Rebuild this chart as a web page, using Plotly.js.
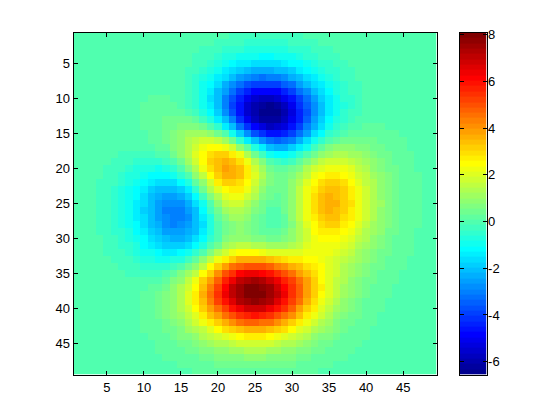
<!DOCTYPE html>
<html>
<head>
<meta charset="utf-8">
<script src="https://cdn.plot.ly/plotly-3.0.1.min.js"></script>
<style>html,body{margin:0;padding:0;background:#fff}#g{width:560px;height:420px}</style>
</head>
<body>
<div id="g"></div>
<script>
// Values: one list per image row, top to bottom, 49 cells each
const zRows = [
[0,0,0,0,0,0,0,0,0,0,0,0,0,0,0,0,-.03,-.05,-.07,-.1,-.14,-.17,-.2,-.23,-.25,-.25,-.25,-.24,-.22,-.2,-.17,-.14,-.11,-.09,-.06,-.05,-.03,-.02,-.01,-.01,0,0,0,0,0,0,0,0,0],
[0,0,0,0,0,0,0,0,0,0,0,0,0,0,-.01,-.03,-.06,-.09,-.14,-.19,-.24,-.3,-.35,-.39,-.42,-.44,-.43,-.41,-.38,-.34,-.29,-.24,-.19,-.14,-.11,-.08,-.05,-.04,-.02,-.02,-.01,0,0,0,0,0,0,0,0],
[0,0,0,0,0,0,0,0,0,.01,.01,.01,.01,0,-.02,-.05,-.1,-.15,-.22,-.3,-.39,-.48,-.56,-.63,-.68,-.7,-.7,-.66,-.61,-.54,-.46,-.38,-.3,-.23,-.17,-.12,-.09,-.06,-.04,-.02,-.02,-.01,0,0,0,0,0,0,0],
[0,0,0,0,0,0,0,.01,.01,.01,.01,.01,0,-.01,-.04,-.09,-.15,-.24,-.35,-.47,-.61,-.74,-.87,-.97,-1.05,-1.08,-1.07,-1.02,-.94,-.83,-.71,-.58,-.46,-.35,-.26,-.19,-.13,-.09,-.06,-.04,-.02,-.01,0,0,0,0,0,0,0],
[0,0,0,0,0,0,.01,.01,.01,.02,.02,.02,0,-.02,-.07,-.13,-.23,-.36,-.52,-.71,-.91,-1.11,-1.3,-1.46,-1.56,-1.61,-1.6,-1.53,-1.4,-1.24,-1.06,-.87,-.69,-.52,-.39,-.28,-.19,-.13,-.08,-.05,-.03,-.02,-.01,0,0,0,0,0,0],
[0,0,0,0,0,.01,.01,.02,.02,.02,.03,.02,0,-.03,-.09,-.19,-.33,-.52,-.74,-1.01,-1.3,-1.58,-1.85,-2.07,-2.23,-2.3,-2.28,-2.18,-2,-1.77,-1.51,-1.24,-.98,-.74,-.54,-.38,-.26,-.17,-.11,-.07,-.04,-.03,-.01,0,0,0,0,0,0],
[0,0,0,0,.01,.01,.01,.02,.03,.03,.04,.03,.01,-.04,-.12,-.25,-.44,-.69,-1,-1.35,-1.74,-2.14,-2.51,-2.81,-3.02,-3.12,-3.1,-2.96,-2.72,-2.41,-2.05,-1.68,-1.32,-1,-.73,-.52,-.35,-.22,-.14,-.08,-.05,-.02,-.01,0,0,0,0,0,0],
[0,0,0,0,.01,.01,.02,.03,.04,.05,.05,.04,.02,-.04,-.14,-.3,-.53,-.85,-1.25,-1.71,-2.21,-2.73,-3.21,-3.61,-3.9,-4.03,-4.01,-3.83,-3.53,-3.12,-2.65,-2.17,-1.71,-1.3,-.94,-.66,-.44,-.28,-.17,-.1,-.06,-.03,-.01,0,0,0,0,0,0],
[0,0,0,0,.01,.02,.02,.03,.05,.06,.07,.07,.05,-.01,-.13,-.32,-.59,-.97,-1.45,-2.01,-2.64,-3.28,-3.88,-4.39,-4.76,-4.94,-4.93,-4.72,-4.35,-3.85,-3.27,-2.68,-2.1,-1.59,-1.15,-.8,-.53,-.34,-.2,-.12,-.06,-.03,-.01,-.01,0,0,0,0,0],
[0,0,0,0,.01,.02,.03,.04,.06,.08,.1,.1,.09,.04,-.08,-.27,-.58,-1,-1.54,-2.2,-2.93,-3.69,-4.41,-5.03,-5.49,-5.73,-5.74,-5.51,-5.08,-4.5,-3.82,-3.12,-2.44,-1.83,-1.32,-.9,-.59,-.37,-.22,-.12,-.06,-.03,-.01,0,0,0,0,0,0],
[0,0,0,0,.01,.02,.03,.05,.07,.1,.13,.15,.15,.12,.02,-.16,-.46,-.9,-1.48,-2.19,-3.01,-3.86,-4.7,-5.43,-5.98,-6.29,-6.33,-6.1,-5.64,-5,-4.24,-3.45,-2.69,-2,-1.42,-.96,-.61,-.37,-.2,-.1,-.05,-.01,0,.01,.01,.01,0,0,0],
[0,0,0,0,.01,.02,.03,.05,.08,.12,.16,.2,.24,.24,.18,.04,-.22,-.63,-1.2,-1.92,-2.77,-3.69,-4.6,-5.42,-6.06,-6.45,-6.55,-6.35,-5.89,-5.22,-4.42,-3.58,-2.76,-2.03,-1.41,-.93,-.57,-.32,-.16,-.06,-.01,.01,.02,.02,.01,.01,.01,0,0],
[0,0,0,0,.01,.01,.03,.05,.08,.13,.19,.26,.33,.38,.39,.33,.15,-.18,-.68,-1.36,-2.18,-3.11,-4.07,-4.96,-5.68,-6.15,-6.32,-6.18,-5.76,-5.11,-4.31,-3.46,-2.63,-1.89,-1.27,-.79,-.44,-.21,-.07,.01,.04,.05,.05,.04,.03,.02,.01,.01,0],
[0,0,-.01,0,0,0,.01,.03,.06,.12,.19,.29,.4,.52,.62,.66,.61,.4,.03,-.54,-1.29,-2.18,-3.14,-4.05,-4.84,-5.4,-5.66,-5.61,-5.25,-4.66,-3.91,-3.09,-2.29,-1.57,-.98,-.54,-.23,-.03,.08,.12,.12,.11,.08,.06,.04,.03,.02,.01,0],
[0,-.01,-.01,-.01,-.02,-.01,-.01,0,.03,.08,.17,.29,.45,.64,.84,1.01,1.11,1.08,.89,.48,-.13,-.93,-1.84,-2.76,-3.6,-4.24,-4.6,-4.65,-4.39,-3.89,-3.22,-2.47,-1.74,-1.08,-.55,-.17,.08,.22,.27,.26,.23,.18,.13,.09,.06,.04,.02,.01,.01],
[-.01,-.01,-.02,-.02,-.03,-.04,-.05,-.05,-.03,.01,.09,.23,.42,.68,.98,1.28,1.55,1.72,1.73,1.53,1.09,.43,-.4,-1.3,-2.16,-2.87,-3.32,-3.48,-3.34,-2.94,-2.36,-1.69,-1.04,-.47,-.02,.29,.46,.52,.5,.44,.35,.27,.19,.13,.09,.05,.03,.02,.01],
[-.01,-.01,-.03,-.04,-.06,-.08,-.1,-.12,-.13,-.11,-.04,.09,.3,.6,.98,1.42,1.85,2.22,2.45,2.47,2.22,1.72,.99,.14,-.73,-1.48,-2.02,-2.27,-2.22,-1.92,-1.43,-.85,-.27,.22,.58,.8,.88,.86,.77,.64,.5,.37,.26,.18,.11,.07,.04,.03,.01],
[-.01,-.02,-.04,-.06,-.09,-.12,-.17,-.22,-.26,-.28,-.25,-.14,.07,.39,.83,1.36,1.94,2.49,2.93,3.15,3.1,2.76,2.15,1.36,.51,-.28,-.87,-1.19,-1.21,-.97,-.54,-.02,.49,.91,1.2,1.33,1.33,1.23,1.06,.85,.66,.48,.34,.22,.14,.09,.05,.03,.02],
[-.02,-.03,-.05,-.08,-.12,-.18,-.25,-.34,-.42,-.49,-.51,-.45,-.28,.03,.5,1.09,1.78,2.48,3.09,3.5,3.63,3.44,2.94,2.23,1.4,.61,0,-.36,-.41,-.2,.21,.7,1.18,1.56,1.79,1.86,1.78,1.59,1.35,1.08,.82,.59,.41,.27,.18,.11,.07,.04,.02],
[-.02,-.04,-.06,-.1,-.16,-.24,-.35,-.47,-.61,-.73,-.82,-.83,-.72,-.45,.01,.63,1.38,2.18,2.93,3.48,3.76,3.71,3.31,2.67,1.88,1.12,.51,.16,.12,.34,.77,1.27,1.75,2.12,2.32,2.33,2.19,1.94,1.63,1.29,.98,.71,.49,.32,.21,.13,.08,.04,.02],
[-.02,-.05,-.08,-.13,-.2,-.3,-.44,-.6,-.8,-.99,-1.16,-1.24,-1.21,-1.01,-.59,.02,.8,1.66,2.49,3.16,3.55,3.61,3.31,2.73,2,1.27,.7,.39,.39,.67,1.14,1.69,2.2,2.57,2.76,2.75,2.56,2.25,1.88,1.48,1.12,.81,.56,.37,.24,.14,.09,.05,.03],
[-.03,-.05,-.09,-.15,-.24,-.36,-.53,-.74,-.98,-1.24,-1.49,-1.66,-1.71,-1.58,-1.23,-.66,.12,1,1.89,2.63,3.12,3.26,3.04,2.53,1.86,1.19,.67,.42,.49,.83,1.37,1.98,2.53,2.93,3.12,3.08,2.86,2.51,2.09,1.65,1.25,.9,.62,.41,.26,.16,.1,.05,.03],
[-.03,-.06,-.1,-.17,-.27,-.41,-.6,-.85,-1.14,-1.46,-1.78,-2.03,-2.16,-2.11,-1.83,-1.31,-.57,.32,1.24,2.02,2.57,2.78,2.63,2.19,1.58,.98,.53,.35,.48,.9,1.5,2.16,2.76,3.18,3.37,3.33,3.09,2.7,2.25,1.77,1.34,.96,.67,.44,.28,.17,.1,.06,.03],
[-.03,-.06,-.11,-.18,-.29,-.44,-.66,-.93,-1.26,-1.63,-2,-2.32,-2.53,-2.55,-2.34,-1.88,-1.18,-.31,.6,1.41,2,2.26,2.18,1.81,1.27,.74,.35,.23,.43,.9,1.56,2.26,2.89,3.33,3.53,3.49,3.23,2.82,2.35,1.85,1.4,1,.69,.46,.29,.18,.11,.06,.03],
[-.04,-.07,-.11,-.19,-.3,-.46,-.69,-.98,-1.33,-1.73,-2.15,-2.51,-2.77,-2.86,-2.71,-2.31,-1.66,-.83,.07,.87,1.48,1.78,1.75,1.45,.98,.51,.19,.13,.38,.89,1.57,2.3,2.94,3.38,3.58,3.53,3.27,2.86,2.37,1.87,1.41,1.02,.7,.46,.3,.18,.11,.06,.03],
[-.04,-.07,-.11,-.19,-.3,-.46,-.69,-.99,-1.35,-1.76,-2.2,-2.59,-2.89,-3.02,-2.92,-2.58,-1.98,-1.21,-.36,.43,1.03,1.36,1.37,1.13,.73,.32,.06,.05,.32,.85,1.54,2.26,2.89,3.33,3.53,3.47,3.21,2.81,2.33,1.84,1.39,1,.69,.46,.29,.17,.1,.06,.03],
[-.03,-.06,-.11,-.18,-.29,-.45,-.67,-.96,-1.32,-1.72,-2.16,-2.56,-2.87,-3.03,-2.98,-2.68,-2.15,-1.44,-.65,.1,.68,1.01,1.05,.86,.52,.18,-.03,-.01,.28,.8,1.47,2.16,2.76,3.18,3.36,3.31,3.06,2.67,2.22,1.75,1.32,.95,.66,.43,.27,.17,.1,.06,.03],
[-.03,-.06,-.1,-.17,-.27,-.42,-.63,-.9,-1.24,-1.63,-2.04,-2.42,-2.74,-2.91,-2.88,-2.63,-2.16,-1.52,-.79,-.11,.45,.77,.84,.69,.41,.12,-.05,-.01,.27,.76,1.38,2.02,2.57,2.95,3.12,3.07,2.83,2.47,2.05,1.62,1.22,.88,.61,.4,.25,.15,.09,.05,.03],
[-.03,-.05,-.09,-.15,-.25,-.38,-.57,-.82,-1.12,-1.47,-1.85,-2.2,-2.49,-2.65,-2.64,-2.42,-2,-1.42,-.76,-.13,.39,.71,.79,.69,.46,.22,.09,.13,.37,.8,1.34,1.9,2.38,2.7,2.83,2.78,2.56,2.23,1.85,1.45,1.09,.79,.54,.36,.23,.14,.08,.05,.03],
[-.03,-.05,-.08,-.13,-.21,-.33,-.5,-.71,-.98,-1.28,-1.61,-1.91,-2.16,-2.29,-2.26,-2.06,-1.67,-1.13,-.52,.07,.57,.89,1,.95,.77,.57,.45,.46,.65,.98,1.41,1.85,2.22,2.47,2.55,2.48,2.27,1.96,1.62,1.27,.96,.69,.47,.31,.2,.12,.07,.04,.02],
[-.02,-.04,-.07,-.11,-.18,-.28,-.42,-.59,-.82,-1.07,-1.33,-1.57,-1.76,-1.84,-1.78,-1.55,-1.17,-.64,-.05,.54,1.04,1.39,1.55,1.55,1.42,1.25,1.12,1.08,1.17,1.37,1.65,1.93,2.17,2.31,2.32,2.21,1.99,1.71,1.4,1.1,.82,.59,.4,.27,.17,.1,.06,.03,.02],
[-.02,-.03,-.05,-.09,-.15,-.22,-.33,-.47,-.65,-.84,-1.04,-1.2,-1.32,-1.33,-1.21,-.94,-.52,.03,.65,1.26,1.81,2.21,2.44,2.5,2.42,2.27,2.11,1.99,1.95,1.99,2.08,2.18,2.25,2.24,2.16,2,1.76,1.49,1.2,.93,.69,.49,.34,.22,.14,.09,.05,.03,.02],
[-.01,-.02,-.04,-.07,-.11,-.17,-.25,-.36,-.48,-.61,-.74,-.83,-.86,-.8,-.6,-.26,.23,.83,1.51,2.18,2.8,3.28,3.59,3.72,3.69,3.55,3.34,3.13,2.94,2.78,2.66,2.55,2.44,2.28,2.09,1.85,1.58,1.3,1.04,.79,.58,.41,.28,.18,.11,.07,.04,.02,.01],
[-.01,-.02,-.03,-.05,-.08,-.12,-.18,-.25,-.33,-.41,-.47,-.48,-.43,-.28,.01,.43,.99,1.67,2.43,3.19,3.89,4.46,4.86,5.06,5.08,4.94,4.68,4.36,4.01,3.66,3.33,3.01,2.7,2.39,2.07,1.76,1.45,1.16,.9,.67,.49,.34,.23,.15,.09,.05,.03,.02,.01],
[-.01,-.01,-.02,-.04,-.06,-.08,-.12,-.16,-.2,-.22,-.23,-.17,-.05,.18,.55,1.05,1.69,2.45,3.28,4.13,4.92,5.58,6.06,6.33,6.38,6.24,5.93,5.51,5.01,4.49,3.96,3.45,2.97,2.51,2.09,1.7,1.35,1.05,.79,.58,.41,.28,.19,.12,.07,.04,.03,.02,.01],
[-.01,-.01,-.02,-.02,-.04,-.05,-.07,-.08,-.09,-.08,-.03,.07,.26,.56,.98,1.55,2.25,3.08,3.97,4.88,5.74,6.47,7.02,7.34,7.42,7.28,6.93,6.42,5.81,5.15,4.47,3.8,3.18,2.6,2.1,1.65,1.27,.96,.7,.5,.35,.23,.15,.1,.06,.03,.02,.01,.01],
[0,-.01,-.01,-.01,-.02,-.03,-.03,-.03,-.01,.03,.11,.25,.48,.81,1.27,1.87,2.6,3.45,4.37,5.31,6.19,6.96,7.54,7.89,7.99,7.85,7.48,6.93,6.25,5.5,4.72,3.96,3.25,2.61,2.05,1.58,1.18,.87,.62,.43,.29,.19,.12,.08,.05,.03,.01,.01,0],
[0,0,0,-.01,-.01,-.01,0,.01,.04,.1,.2,.36,.6,.95,1.42,2.02,2.74,3.57,4.48,5.39,6.27,7.02,7.6,7.96,8.07,7.93,7.56,7,6.3,5.52,4.71,3.92,3.18,2.52,1.95,1.47,1.08,.78,.55,.37,.25,.16,.1,.06,.04,.02,.01,.01,0],
[0,0,0,0,0,0,.01,.03,.07,.13,.24,.41,.65,.98,1.43,1.99,2.67,3.45,4.29,5.15,5.96,6.67,7.22,7.57,7.68,7.55,7.2,6.66,5.99,5.23,4.45,3.68,2.96,2.32,1.78,1.32,.96,.68,.47,.31,.21,.13,.08,.05,.03,.02,.01,0,0],
[0,0,0,0,0,.01,.02,.04,.08,.15,.25,.4,.62,.93,1.33,1.83,2.43,3.12,3.87,4.62,5.34,5.98,6.47,6.78,6.88,6.76,6.45,5.97,5.36,4.68,3.97,3.27,2.62,2.04,1.55,1.14,.82,.58,.39,.26,.17,.1,.06,.04,.02,.01,.01,0,0],
[0,0,0,0,.01,.01,.02,.04,.08,.14,.23,.36,.55,.82,1.16,1.59,2.1,2.68,3.3,3.94,4.56,5.09,5.51,5.77,5.86,5.76,5.5,5.09,4.57,3.98,3.37,2.77,2.21,1.72,1.29,.95,.68,.47,.32,.21,.13,.08,.05,.03,.02,.01,0,0,0],
[0,0,0,0,.01,.01,.02,.04,.07,.12,.19,.3,.46,.67,.95,1.3,1.71,2.18,2.68,3.2,3.69,4.12,4.45,4.67,4.74,4.66,4.45,4.11,3.69,3.22,2.72,2.23,1.78,1.37,1.03,.75,.54,.37,.25,.16,.1,.06,.04,.02,.01,.01,0,0,0],
[0,0,0,0,0,.01,.02,.03,.06,.1,.16,.24,.36,.53,.74,1.01,1.32,1.68,2.07,2.46,2.84,3.17,3.43,3.59,3.65,3.59,3.43,3.17,2.84,2.48,2.09,1.71,1.36,1.05,.79,.57,.41,.28,.19,.12,.08,.05,.03,.01,.01,0,0,0,0],
[0,0,0,0,0,.01,.01,.03,.04,.07,.12,.18,.27,.39,.55,.74,.97,1.24,1.52,1.81,2.09,2.33,2.52,2.64,2.68,2.64,2.52,2.33,2.09,1.82,1.53,1.25,1,.77,.57,.42,.29,.2,.13,.09,.05,.03,.02,.01,0,0,0,0,0],
[0,0,0,0,0,0,.01,.02,.03,.05,.08,.13,.19,.28,.39,.52,.69,.87,1.07,1.27,1.46,1.63,1.77,1.85,1.88,1.85,1.77,1.63,1.46,1.27,1.07,.88,.7,.54,.4,.29,.2,.14,.09,.06,.04,.02,.01,0,0,0,0,0,0],
[0,0,0,0,0,0,.01,.01,.02,.04,.06,.09,.13,.19,.26,.36,.46,.59,.72,.85,.98,1.09,1.18,1.24,1.26,1.24,1.18,1.09,.98,.85,.72,.59,.46,.36,.26,.19,.13,.09,.06,.04,.02,.01,0,0,0,0,0,0,0],
[0,0,0,0,0,0,0,0,.02,.02,.04,.06,.09,.12,.17,.23,.3,.38,.47,.55,.64,.71,.77,.81,.82,.81,.77,.71,.64,.55,.47,.38,.3,.23,.17,.12,.09,.06,.04,.02,.02,0,0,0,0,0,0,0,0],
[0,0,0,0,0,0,0,0,0,.01,.02,.04,.05,.08,.11,.14,.19,.24,.29,.35,.4,.44,.48,.5,.51,.5,.48,.44,.4,.35,.29,.24,.19,.14,.11,.08,.05,.04,.02,.01,0,0,0,0,0,0,0,0,0],
[0,0,0,0,0,0,0,0,0,0,.01,.02,.03,.05,.06,.08,.11,.14,.17,.2,.23,.26,.28,.3,.3,.3,.28,.26,.23,.2,.17,.14,.11,.08,.06,.05,.03,.02,.01,0,0,0,0,0,0,0,0,0,0]
];
const zMin = -6.55;
const zMax = 8.1;
const axisTicks = [5,10,15,20,25,30,35,40,45];
const colorbarTicks = [-6,-4,-2,0,2,4,6,8];
const colorbarLevels = [-6.44,-6.21,-5.98,-5.75,-5.52,-5.30,-5.07,-4.84,-4.61,-4.38,-4.15,-3.92,-3.69,-3.47,-3.24,-3.01,-2.78,-2.55,-2.32,-2.09,-1.86,-1.63,-1.41,-1.18,-.95,-.72,-.49,-.26,-.03,.20,.43,.65,.88,1.11,1.34,1.57,1.80,2.03,2.26,2.49,2.71,2.94,3.17,3.40,3.63,3.86,4.09,4.32,4.55,4.78,5.00,5.23,5.46,5.69,5.92,6.15,6.38,6.61,6.84,7.06,7.29,7.52,7.75,7.98];

// 64-step stepped jet colour map
function jetColor(i){
  const ramp = v => Math.round(255*Math.max(0,Math.min(1,v)));
  const r = i<24 ? 0 : i<40 ? (i-23)/16 : i<56 ? 1 : (71-i)/16;
  const g = i<8 ? 0 : i<24 ? (i-7)/16 : i<40 ? 1 : (55-i)/16;
  const b = i<8 ? (i+9)/16 : i<24 ? 1 : i<40 ? (39-i)/16 : 0;
  return 'rgb('+ramp(r)+','+ramp(g)+','+ramp(b)+')';
}
const jet = [];
for(let i=0;i<64;i++){ jet.push([i/64,jetColor(i)]); jet.push([(i+1)/64,jetColor(i)]); }

const cols = zRows[0].map((_,i)=>i+1);
const rows = zRows.map((_,i)=>i+1);
const W=560,H=420;
const font={family:'"Liberation Sans", Arial, sans-serif',size:13,color:'#000'};
const axisBase={ticks:'inside',ticklen:4,tickwidth:1,tickcolor:'#000',showline:true,linecolor:'#000',linewidth:1,mirror:'ticks',showgrid:false,zeroline:false};

Plotly.newPlot('g',[
 {type:'heatmap',x:cols,y:rows,z:zRows,zmin:zMin,zmax:zMax,colorscale:jet,showscale:false,zsmooth:false,hoverinfo:'skip',xaxis:'x',yaxis:'y'},
 {type:'heatmap',x:[0],y:colorbarLevels,z:colorbarLevels.map(v=>[v]),zmin:zMin,zmax:zMax,colorscale:jet,showscale:false,zsmooth:false,hoverinfo:'skip',xaxis:'x2',yaxis:'y2'}
],{
 width:W,height:H,margin:{l:0,r:0,t:0,b:0},paper_bgcolor:'#fff',plot_bgcolor:'#fff',font:font,showlegend:false,
 xaxis:Object.assign({},axisBase,{domain:[73.5/W,436.5/W],range:[0.5,49.5],tickvals:axisTicks,ticktext:axisTicks.map(String),anchor:'y',fixedrange:true,ticklabelstandoff:1}),
 yaxis:Object.assign({},axisBase,{domain:[1-374.5/H,1-32.5/H],range:[49.5,0.5],tickvals:axisTicks,ticktext:axisTicks.map(String),anchor:'x',fixedrange:true}),
 xaxis2:Object.assign({},axisBase,{domain:[459.5/W,486.5/W],range:[-0.5,0.5],ticks:'',showticklabels:false,anchor:'y2',mirror:true,fixedrange:true}),
 yaxis2:Object.assign({},axisBase,{domain:[1-374.5/H,1-32.5/H],range:[zMin,zMax],side:'right',tickvals:colorbarTicks,ticktext:colorbarTicks.map(String),anchor:'x2',fixedrange:true,ticklabelstandoff:-2})
},{displayModeBar:false,staticPlot:true});
</script>
</body>
</html>
